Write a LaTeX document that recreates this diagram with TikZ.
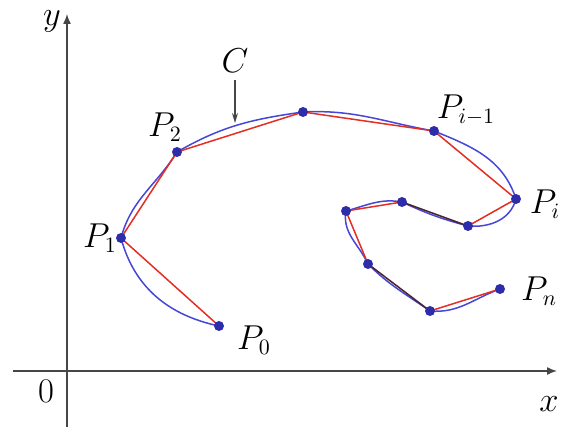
\documentclass[tikz,border=0pt]{standalone}
\usetikzlibrary{arrows.meta, positioning}
\definecolor{curveblue}{RGB}{70,70,215}
\definecolor{chordred}{RGB}{228,45,35}
\definecolor{chorddark}{RGB}{75,35,45}
\definecolor{dotblue}{RGB}{45,45,170}
\definecolor{axisgray}{RGB}{70,70,70}

\begin{document}
\begin{tikzpicture}[x=0.5pt, y=0.5pt, >=Stealth, font=\fontsize{16}{19}\selectfont,
    axis/.style={axisgray, line width=0.7pt, -{Latex[length=5pt, width=4pt]}},
    curve/.style={curveblue, line width=0.75pt},
    chord/.style={chordred, line width=0.75pt},
    darkchord/.style={chorddark, line width=0.75pt}]
  \useasboundingbox (0,0) rectangle (574,429);
  % axes
  \coordinate (xs) at (13,58);
  \coordinate (xe) at (557,58);
  \coordinate (ys) at (67,2);
  \coordinate (ye) at (67,415);
  \draw[axis] (xs) -- (xe);
  \draw[axis] (ys) -- (ye);
  \node (ylab) at (52,408) {$y$};
  \node (xlab) at (549,25) {$x$};
  \node (zero) at (46,38) {$0$};
  % points on the curve
  \coordinate (p0) at (219,103);
  \coordinate (p1) at (121,191);
  \coordinate (p2) at (177,277);
  \coordinate (p3) at (303,317);
  \coordinate (pim) at (434,298);
  \coordinate (pi) at (516,230);
  \coordinate (q1) at (468,203);
  \coordinate (q2) at (402,227);
  \coordinate (q3) at (346,218);
  \coordinate (q4) at (368,165);
  \coordinate (q5) at (430,118);
  \coordinate (pn) at (500,140);
  % the curve C
  \draw[curve] (p0) to[out=168, in=-75] (p1)
    to[out=75, in=238] (p2)
    to[out=30, in=188] (p3)
    to[out=3, in=170] (pim)
    to[out=-22, in=108] (pi)
    to[out=-105, in=-5] (q1)
    to[out=165, in=-25] (q2)
    to[out=170, in=15] (q3)
    to[out=-100, in=115] (q4)
    to[out=-45, in=145] (q5)
    to[out=-5, in=200] (pn);
  % polygon
  \draw[chord] (p0) -- (p1) -- (p2) -- (p3) -- (pim) -- (pi) -- (q1);
  \draw[darkchord] (q1) -- (q2);
  \draw[chord] (q2) -- (q3) -- (q4);
  \draw[darkchord] (q4) -- (q5);
  \draw[chord] (q5) -- (pn);
  \foreach \p in {p0,p1,p2,p3,pim,pi,q1,q2,q3,q4,q5,pn}
    \fill[dotblue] (\p) circle (2.5pt);
  % labels
  \node (lp0) at (254,89) {$P_0$};
  \node (lp1) at (100,191) {$P_1$};
  \node (lp2) at (165,302) {$P_2$};
  \node (lpim) at (466,319) {$P_{i-1}$};
  \node (lpi) at (545,225) {$P_i$};
  \node (lpn) at (539,138) {$P_n$};
  \node (clab) at (235,368) {$C$};
  \coordinate (ctip) at (235,306);
  \draw[axisgray, line width=0.6pt, -{Stealth[length=5pt, width=3pt]}] (clab) -- (ctip);
\end{tikzpicture}
\end{document}
